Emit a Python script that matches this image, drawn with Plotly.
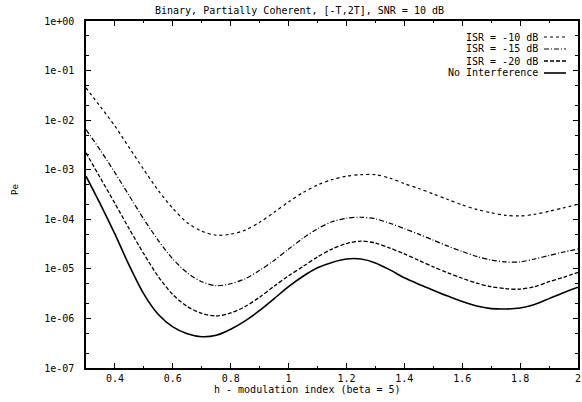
import plotly.graph_objects as go

# ---------------- data ----------------
h = [0.30, 0.35, 0.40, 0.45, 0.50, 0.55, 0.60, 0.65, 0.70, 0.75,
     0.80, 0.85, 0.90, 0.95, 1.00, 1.05, 1.10, 1.15, 1.20, 1.25,
     1.30, 1.35, 1.40, 1.45, 1.50, 1.55, 1.60, 1.65, 1.70, 1.75,
     1.80, 1.85, 1.90, 1.95, 2.00]

pe_isr_10 = [4.47e-2, 1.86e-2, 7.59e-3, 2.75e-3, 1.00e-3, 3.80e-4, 1.66e-4, 8.51e-5, 5.75e-5, 4.79e-5,
             5.01e-5, 6.03e-5, 8.71e-5, 1.38e-4, 2.24e-4, 3.47e-4, 4.90e-4, 6.31e-4, 7.41e-4, 7.94e-4,
             7.94e-4, 6.76e-4, 5.25e-4, 4.17e-4, 3.24e-4, 2.51e-4, 1.95e-4, 1.58e-4, 1.35e-4, 1.20e-4,
             1.17e-4, 1.26e-4, 1.45e-4, 1.70e-4, 2.00e-4]

pe_isr_15 = [6.46e-3, 2.45e-3, 8.71e-4, 2.95e-4, 1.00e-4, 3.72e-5, 1.58e-5, 8.32e-6, 5.50e-6, 4.57e-6,
             5.01e-6, 6.31e-6, 9.33e-6, 1.48e-5, 2.51e-5, 4.17e-5, 6.46e-5, 8.91e-5, 1.05e-4, 1.10e-4,
             1.02e-4, 8.32e-5, 6.46e-5, 5.01e-5, 3.80e-5, 2.88e-5, 2.24e-5, 1.78e-5, 1.51e-5, 1.38e-5,
             1.38e-5, 1.58e-5, 1.86e-5, 2.19e-5, 2.51e-5]

pe_isr_20 = [2.19e-3, 6.76e-4, 2.09e-4, 6.31e-5, 2.00e-5, 6.92e-6, 3.02e-6, 1.74e-6, 1.26e-6, 1.12e-6,
             1.29e-6, 1.74e-6, 2.69e-6, 4.47e-6, 7.24e-6, 1.12e-5, 1.74e-5, 2.51e-5, 3.24e-5, 3.63e-5,
             3.31e-5, 2.63e-5, 2.00e-5, 1.48e-5, 1.10e-5, 8.32e-6, 6.46e-6, 5.13e-6, 4.37e-6, 3.98e-6,
             3.89e-6, 4.37e-6, 5.50e-6, 6.76e-6, 8.51e-6]

pe_none = [7.41e-4, 2.00e-4, 5.01e-5, 1.15e-5, 3.09e-6, 1.20e-6, 6.76e-7, 4.90e-7, 4.27e-7, 4.57e-7,
           6.03e-7, 8.91e-7, 1.45e-6, 2.51e-6, 4.37e-6, 7.08e-6, 1.05e-5, 1.35e-5, 1.58e-5, 1.58e-5,
           1.32e-5, 9.55e-6, 6.61e-6, 4.90e-6, 3.72e-6, 2.82e-6, 2.19e-6, 1.78e-6, 1.58e-6, 1.55e-6,
           1.62e-6, 1.91e-6, 2.51e-6, 3.31e-6, 4.27e-6]

series_names = ["ISR = -10 dB", "ISR = -15 dB", "ISR = -20 dB", "No Interference"]
series_values = [pe_isr_10, pe_isr_15, pe_isr_20, pe_none]

y_tick_vals = [1e0, 1e-1, 1e-2, 1e-3, 1e-4, 1e-5, 1e-6, 1e-7]
y_tick_text = ["1e+00", "1e-01", "1e-02", "1e-03", "1e-04", "1e-05", "1e-06", "1e-07"]
y_minor_vals = [m * d for d in [1e-1, 1e-2, 1e-3, 1e-4, 1e-5, 1e-6, 1e-7] for m in (2, 5)]
x_tick_vals = [0.4, 0.6, 0.8, 1.0, 1.2, 1.4, 1.6, 1.8, 2.0]
x_tick_text = ["0.4", "0.6", "0.8", "1", "1.2", "1.4", "1.6", "1.8", "2"]

title_text = "Binary, Partially Coherent, [-T,2T], SNR = 10 dB"
x_title = "h - modulation index (beta = 5)"
y_title = "Pe"

# ---------------- styling ----------------
FONT = "DejaVu Sans Mono"
styles = [
    dict(dash="dot", width=1.2),
    dict(dash="5px,2px,1px,2px", width=1.2),
    dict(dash="4px,2px", width=1.3),
    dict(dash="solid", width=1.6),
]

fig = go.Figure()
for name, vals, st in zip(series_names, series_values, styles):
    fig.add_trace(go.Scatter(
        x=h, y=vals, mode="lines", name=name,
        line=dict(color="black", width=st["width"], dash=st["dash"], shape="spline", smoothing=0.8),
        showlegend=False,
    ))

W, H = 582, 402
L, T, R = 86, 21, 4
B = H - 368
pw, ph = W - L - R, H - T - B

def px_to_paper_x(px):
    return (px - L) / pw

def px_to_paper_y(py):
    return 1 - (py - T) / ph

# legend: text followed by line sample
legend_rows_y = [37, 49, 61, 73]
for name, st, ypx in zip(series_names, styles, legend_rows_y):
    yp = px_to_paper_y(ypx)
    fig.add_annotation(x=px_to_paper_x(540), y=yp, xref="paper", yref="paper",
                       text=name, showarrow=False, xanchor="right", yanchor="middle",
                       font=dict(family=FONT, size=10, color="black"))
    fig.add_shape(type="line", xref="paper", yref="paper",
                  x0=px_to_paper_x(544), x1=px_to_paper_x(566), y0=yp, y1=yp,
                  line=dict(color="black", width=st["width"], dash=st["dash"]))

# titles
fig.add_annotation(x=px_to_paper_x(299), y=px_to_paper_y(10), xref="paper", yref="paper",
                   text=title_text, showarrow=False, xanchor="center", yanchor="middle",
                   font=dict(family=FONT, size=10, color="black"))
fig.add_annotation(x=px_to_paper_x(307), y=px_to_paper_y(389), xref="paper", yref="paper",
                   text=x_title, showarrow=False, xanchor="center", yanchor="middle",
                   font=dict(family=FONT, size=10, color="black"))
fig.add_annotation(x=px_to_paper_x(15), y=px_to_paper_y(190), xref="paper", yref="paper",
                   text=y_title, showarrow=False, textangle=-90, xanchor="center", yanchor="middle",
                   font=dict(family=FONT, size=9, color="black"))

fig.update_xaxes(
    range=[0.3, 2.0], tickvals=x_tick_vals, ticktext=x_tick_text,
    ticks="inside", ticklen=5, tickwidth=1, tickcolor="black",
    showline=True, linecolor="black", linewidth=1.5, mirror="allticks",
    showgrid=False, zeroline=False, automargin=False,
    tickfont=dict(family=FONT, size=10, color="black"),
    minor=dict(dtick=0.1, tick0=0.3, ticks="inside", ticklen=2, tickcolor="black"),
)
fig.update_yaxes(
    type="log", range=[-7, 0], tickvals=y_tick_vals, ticktext=y_tick_text,
    ticks="inside", ticklen=5, tickwidth=1, tickcolor="black",
    showline=True, linecolor="black", linewidth=1.5, mirror="allticks",
    showgrid=False, zeroline=False, automargin=False,
    tickfont=dict(family=FONT, size=10, color="black"),
    ticklabelstandoff=8,
    minor=dict(tickvals=y_minor_vals, ticks="inside", ticklen=3, tickcolor="black"),
)

fig.update_layout(
    width=W, height=H,
    margin=dict(l=L, r=R, t=T, b=B, pad=0, autoexpand=False),
    paper_bgcolor="white", plot_bgcolor="white",
    font=dict(family=FONT, size=10, color="black"),
    showlegend=False,
)

# remove the browser's default 8px page margin so the figure fills the window
fig.write_html("out.html",
               config={"displayModeBar": False},
               post_script="document.body.style.margin='0';document.body.style.overflow='hidden';")
